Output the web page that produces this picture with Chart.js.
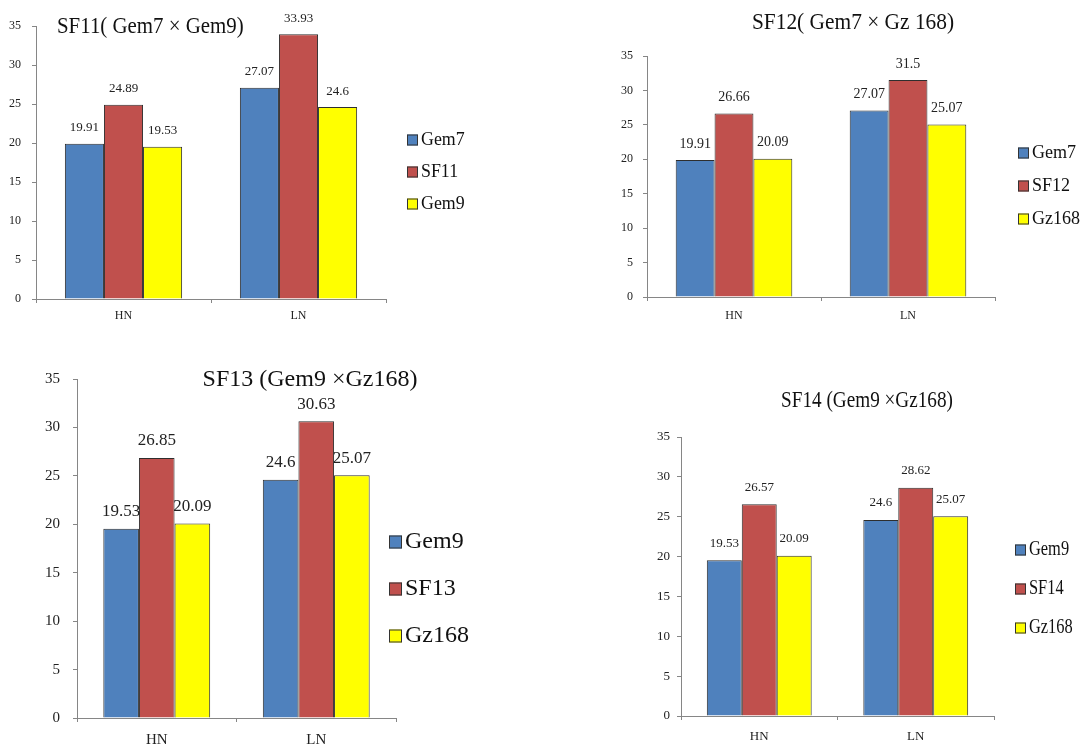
<!DOCTYPE html>
<html><head><meta charset="utf-8">
<script src="https://cdn.jsdelivr.net/npm/chart.js@4.4.1/dist/chart.umd.min.js"></script>
<style>
html,body{margin:0;padding:0;background:#fff;width:1086px;height:747px;overflow:hidden}
canvas{position:absolute;left:0;top:0}
</style></head><body>
<canvas id="c1" width="1086" height="747"></canvas>
<canvas id="c2" width="1086" height="747"></canvas>
<canvas id="c3" width="1086" height="747"></canvas>
<canvas id="c4" width="1086" height="747"></canvas>
<script>
// ---- data ----
const categories = ['HN', 'LN'];
const yMin = 0, yMax = 35, yStep = 5;

const sf11Names = ['Gem7', 'SF11', 'Gem9'];
const sf11Gem7 = [19.91, 27.07];
const sf11SF11 = [24.89, 33.93];
const sf11Gem9 = [19.53, 24.6];

const sf12Names = ['Gem7', 'SF12', 'Gz168'];
const sf12Gem7 = [19.91, 27.07];
const sf12SF12 = [26.66, 31.5];
const sf12Gz168 = [20.09, 25.07];

const sf13Names = ['Gem9', 'SF13', 'Gz168'];
const sf13Gem9 = [19.53, 24.6];
const sf13SF13 = [26.85, 30.63];
const sf13Gz168 = [20.09, 25.07];

const sf14Names = ['Gem9', 'SF14', 'Gz168'];
const sf14Gem9 = [19.53, 24.6];
const sf14SF14 = [26.57, 28.62];
const sf14Gz168 = [20.09, 25.07];

const titles = ['SF11( Gem7 \u00d7 Gem9)', 'SF12( Gem7 \u00d7 Gz 168)', 'SF13 (Gem9 \u00d7Gz168)', 'SF14 (Gem9 \u00d7Gz168)'];

// ---- styles ----
const FONT = "'Liberation Serif','Times New Roman',serif";
const seriesColors = ['#4F81BD', '#C0504D', '#FFFF00'];
const axisColor = '#868686';

const panelTitle = {
  id: 'panelTitle',
  afterDraw(chart, args, o) {
    const c = chart.ctx;
    c.save();
    c.translate(o.x, o.y);
    c.scale(o.sx || 1, 1);
    c.font = o.size + 'px ' + FONT;
    c.fillStyle = '#111';
    c.textAlign = o.align;
    c.textBaseline = 'middle';
    c.fillText(o.text, 0, 0);
    c.restore();
  }
};
const sideLegend = {
  id: 'sideLegend',
  afterDraw(chart, args, o) {
    const c = chart.ctx;
    chart.data.datasets.forEach((ds, i) => {
      const y = o.y + i * o.gap;
      c.save();
      c.fillStyle = ds.backgroundColor;
      c.fillRect(o.x, y - o.box / 2, o.box, o.box);
      c.strokeStyle = '#333';
      c.lineWidth = 1;
      c.strokeRect(o.x + 0.5, y - o.box / 2 + 0.5, o.box - 1, o.box - 1);
      c.translate(o.x + o.box + 3, y);
      c.scale(o.sx || 1, 1);
      c.font = o.size + 'px ' + FONT;
      c.textAlign = 'left';
      c.textBaseline = 'middle';
      c.fillStyle = '#111';
      c.fillText(ds.label, 0, 0);
      c.restore();
    });
  }
};
const barValues = {
  id: 'barValues',
  afterDatasetDraw(chart, args, o) {
    const c = chart.ctx;
    const ds = chart.data.datasets[args.index];
    c.save();
    c.font = o.size + 'px ' + FONT;
    c.fillStyle = '#222';
    c.textAlign = 'center';
    c.textBaseline = 'middle';
    args.meta.data.forEach((el, j) => {
      c.fillText(String(ds.data[j]), el.x, el.y - o.offset);
    });
    c.restore();
  }
};

function makeChart(id, names, series, cfg) {
  return new Chart(document.getElementById(id), {
    type: 'bar',
    data: {
      labels: categories,
      datasets: series.map((vals, i) => ({
        label: names[i], data: vals, backgroundColor: seriesColors[i],
        borderColor: '#2e2e2e', borderWidth: 1,
        categoryPercentage: 0.67, barPercentage: 1
      }))
    },
    options: {
      responsive: false, animation: false, devicePixelRatio: 1,
      layout: { padding: cfg.pad },
      scales: {
        x: {
          grid: { drawOnChartArea: false, drawTicks: true, tickLength: 4, color: axisColor, offset: true },
          border: { color: axisColor },
          ticks: { font: { family: FONT, size: cfg.xFont }, color: '#222', padding: cfg.xPad },
          afterFit: s => { s.height = cfg.xH; }
        },
        y: {
          min: yMin, max: yMax,
          grid: { drawOnChartArea: false, drawTicks: true, tickLength: 4, color: axisColor },
          border: { color: axisColor },
          ticks: { stepSize: yStep, font: { family: FONT, size: cfg.yFont }, color: '#222', padding: cfg.yPad },
          afterFit: s => { s.width = cfg.yW; }
        }
      },
      plugins: {
        legend: { display: false }, tooltip: { enabled: false },
        panelTitle: cfg.title, sideLegend: cfg.legend, barValues: cfg.values
      }
    },
    plugins: [panelTitle, sideLegend, barValues]
  });
}

makeChart('c1', sf11Names, [sf11Gem7, sf11SF11, sf11Gem9], {
  pad: { left: 0, right: 700, top: 26, bottom: 418 }, yW: 36, xH: 30,
  xFont: 12, yFont: 12, xPad: 6, yPad: 11,
  title: { text: titles[0], x: 57, y: 27, size: 24, sx: 0.87, align: 'left' },
  legend: { x: 407, y: 140, gap: 32, box: 11, size: 19, sx: 0.94 },
  values: { size: 13, offset: 16 }
});
makeChart('c2', sf12Names, [sf12Gem7, sf12SF12, sf12Gz168], {
  pad: { left: 607, right: 91, top: 56, bottom: 420 }, yW: 40, xH: 30,
  xFont: 12, yFont: 12, xPad: 8, yPad: 10,
  title: { text: titles[1], x: 853, y: 23, size: 23, sx: 0.93, align: 'center' },
  legend: { x: 1018, y: 153, gap: 33, box: 11, size: 19, sx: 0.95 },
  values: { size: 14, offset: 16 }
});
makeChart('c3', sf13Names, [sf13Gem9, sf13SF13, sf13Gz168], {
  pad: { left: 37, right: 690, top: 379, bottom: 0 }, yW: 40, xH: 29,
  xFont: 15, yFont: 15, xPad: 9, yPad: 13,
  title: { text: titles[2], x: 310, y: 380, size: 24, sx: 1, align: 'center' },
  legend: { x: 389, y: 542, gap: 47, box: 13, size: 24, sx: 1 },
  values: { size: 17, offset: 17 }
});
makeChart('c4', sf14Names, [sf14Gem9, sf14SF14, sf14Gz168], {
  pad: { left: 641, right: 92, top: 437, bottom: 0 }, yW: 40, xH: 31,
  xFont: 13, yFont: 13, xPad: 9, yPad: 7,
  title: { text: titles[3], x: 867, y: 401, size: 24, sx: 0.8, align: 'center' },
  legend: { x: 1015, y: 550, gap: 39, box: 11, size: 20, sx: 0.82 },
  values: { size: 13, offset: 17 }
});
</script>
</body></html>
